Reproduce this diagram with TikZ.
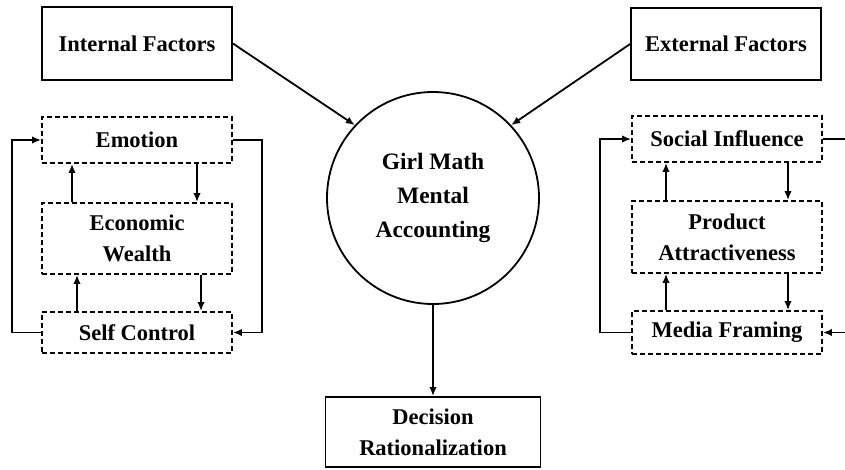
\documentclass[tikz,border=0pt]{standalone}
\usepackage{fontspec}
\setmainfont{Liberation Serif}
\usetikzlibrary{arrows.meta}
\tikzset{
  lbl/.style={font=\bfseries\fontsize{22.5}{31}\selectfont, align=center, inner sep=0pt},
  solidbox/.style={lbl, draw, line width=1.8pt},
  dashbox/.style={lbl, draw, line width=1.8pt, dash pattern=on 5pt off 3pt},
  arr/.style={line width=1.8pt, -{Latex[length=9pt,width=7.5pt]}},
  ln/.style={line width=1.8pt},
}
\begin{document}
\begin{tikzpicture}[x=1pt,y=-1pt]
\useasboundingbox (0,0) rectangle (845,469);
\coordinate (edge) at (845,0);
% main nodes
\node[solidbox, minimum width=190pt, minimum height=73pt] (int) at (137,43.5) {Internal Factors};
\node[solidbox, minimum width=190pt, minimum height=72pt] (ext) at (726,44) {External Factors};
\node[lbl, draw, line width=1.8pt, circle, minimum size=212pt, font=\bfseries\fontsize{23.5}{34}\selectfont] (circ) at (433,198) {Girl Math\\Mental\\Accounting};
\node[solidbox, minimum width=215pt, minimum height=70pt] (dec) at (433,432) {Decision\\Rationalization};
% left group
\node[dashbox, minimum width=190pt, minimum height=46pt] (emo) at (137,140) {Emotion};
\node[dashbox, minimum width=190pt, minimum height=71pt] (econ) at (137,238.5) {Economic\\Wealth};
\node[dashbox, minimum width=190pt, minimum height=41pt] (self) at (137,332.5) {Self Control};
% right group
\node[dashbox, minimum width=190pt, minimum height=46pt] (soc) at (727,139) {Social Influence};
\node[dashbox, minimum width=190pt, minimum height=72pt] (prod) at (727,237) {Product\\Attractiveness};
\node[dashbox, minimum width=190pt, minimum height=43pt] (media) at (727,332.5) {Media Framing};
% main arrows
\draw[arr] (int.east) -- (circ.137);
\draw[arr] (ext.west) -- (circ.43);
\draw[arr] (circ.south) -- (dec.north);
% left inner arrows
\draw[arr] ([xshift=-65pt]econ.north) -- ([xshift=-65pt]econ.north |- emo.south);
\draw[arr] ([xshift=60pt]emo.south) -- ([xshift=60pt]emo.south |- econ.north);
\draw[arr] ([xshift=-60pt]self.north) -- ([xshift=-60pt]self.north |- econ.south);
\draw[arr] ([xshift=64pt]econ.south) -- ([xshift=64pt]econ.south |- self.north);
% left loops
\draw[arr] (self.west) -- ++(-29,0) |- (emo.west);
\draw[arr] (emo.east) -- ++(29,0) |- (self.east);
% right inner arrows
\draw[arr] ([xshift=-61pt]prod.north) -- ([xshift=-61pt]prod.north |- soc.south);
\draw[arr] ([xshift=61pt]soc.south) -- ([xshift=61pt]soc.south |- prod.north);
\draw[arr] ([xshift=-61pt]media.north) -- ([xshift=-61pt]media.north |- prod.south);
\draw[arr] ([xshift=61pt]prod.south) -- ([xshift=61pt]prod.south |- media.north);
% right loops
\draw[arr] (media.west) -- ++(-31,0) |- (soc.west);
\draw[ln] (soc.east) -- (soc.east -| edge);
\draw[arr] (media.east -| edge) -- (media.east);
\end{tikzpicture}
\end{document}
